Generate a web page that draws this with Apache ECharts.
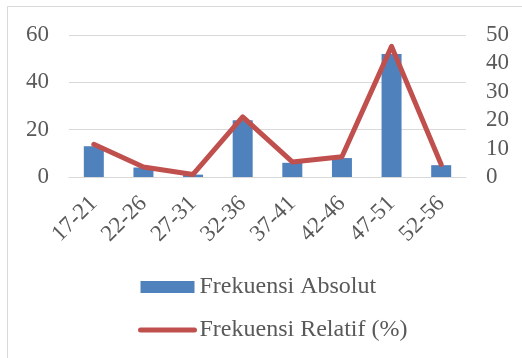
<!DOCTYPE html>
<html>
<head>
<meta charset="utf-8">
<script src="https://cdn.jsdelivr.net/npm/echarts@6/dist/echarts.min.js"></script>
<style>
html,body{margin:0;padding:0;background:#fff;}
#c{width:522px;height:358px;}
</style>
</head>
<body>
<div id="c"></div>
<script>
const categories = ['17-21','22-26','27-31','32-36','37-41','42-46','47-51','52-56'];
const absolut = [13, 4, 1, 24, 6, 8, 52, 5];
const relatif = [11.5, 3.5, 0.9, 21.2, 5.3, 7.1, 46.0, 4.4];
const leftTicks = [0, 20, 40, 60];
const rightTicks = [0, 10, 20, 30, 40, 50];

const FONT = '"Liberation Serif", "Times New Roman", serif';
const TXT = '#595959';
const chart = echarts.init(document.getElementById('c'), null, {renderer: 'canvas'});
chart.setOption({
  animation: false,
  backgroundColor: '#ffffff',
  graphic: [{
    type: 'rect',
    shape: {x: 7.5, y: 6.5, width: 600, height: 400},
    style: {fill: 'none', stroke: '#D9D9D9', lineWidth: 1},
    silent: true, z: -10
  }],
  grid: {left: 69, right: 56, top: 35, bottom: 181, containLabel: false},
  legend: {
    orient: 'vertical',
    left: 133,
    top: 270,
    itemWidth: 54,
    itemHeight: 12,
    itemGap: 19,
    textStyle: {fontFamily: FONT, fontSize: 24, color: TXT},
    data: [
      {name: 'Frekuensi Absolut', icon: 'rect'},
      {name: 'Frekuensi Relatif (%)', itemStyle: {opacity: 0}, lineStyle: {width: 5, cap: 'round', color: '#C0504D'}}
    ]
  },
  xAxis: {
    type: 'category',
    data: categories,
    boundaryGap: true,
    axisLine: {lineStyle: {color: '#D9D9D9', width: 1}},
    axisTick: {show: false},
    axisLabel: {rotate: 45, margin: 23, fontFamily: FONT, fontSize: 23, color: TXT, interval: 0}
  },
  yAxis: [{
    type: 'value', min: leftTicks[0], max: leftTicks[leftTicks.length-1], interval: 20,
    axisLine: {show: false}, axisTick: {show: false},
    splitLine: {lineStyle: {color: '#D9D9D9', width: 1}},
    axisLabel: {margin: 20, fontFamily: FONT, fontSize: 23, color: TXT}
  }, {
    type: 'value', min: rightTicks[0], max: rightTicks[rightTicks.length-1], interval: 10,
    position: 'right',
    axisLine: {show: false}, axisTick: {show: false},
    splitLine: {show: false},
    axisLabel: {margin: 20, fontFamily: FONT, fontSize: 23, color: TXT}
  }],
  series: [{
    name: 'Frekuensi Absolut',
    type: 'bar',
    yAxisIndex: 0,
    data: absolut,
    barWidth: 20,
    itemStyle: {color: '#4F81BD'}
  }, {
    name: 'Frekuensi Relatif (%)',
    type: 'line',
    yAxisIndex: 1,
    data: relatif,
    symbol: 'none',
    lineStyle: {color: '#C0504D', width: 5, cap: 'round', join: 'round'},
    itemStyle: {color: '#C0504D'}
  }]
});
</script>
</body>
</html>
